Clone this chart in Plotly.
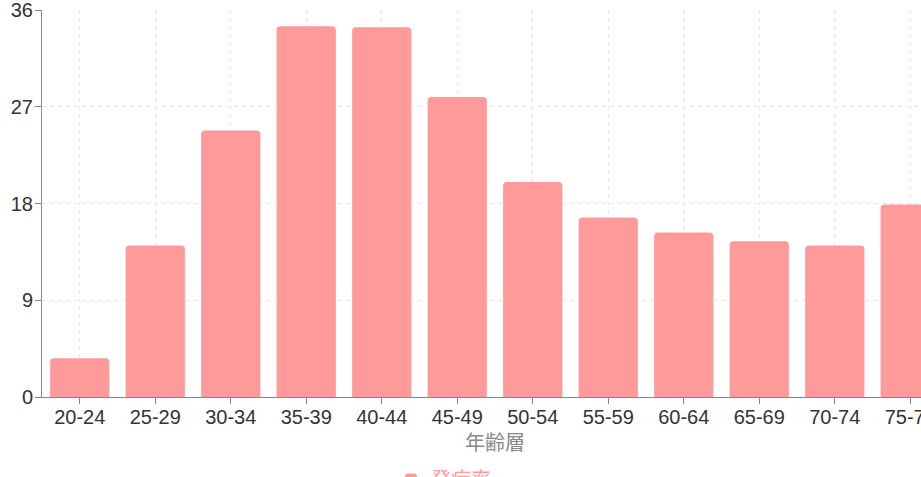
import plotly.graph_objects as go

age_groups = ["20-24", "25-29", "30-34", "35-39", "40-44", "45-49",
              "50-54", "55-59", "60-64", "65-69", "70-74", "75-79"]
incidence = [3.6, 14.1, 24.8, 34.5, 34.4, 27.9, 20.0, 16.7, 15.3, 14.5, 14.1, 17.9]
y_ticks = [0, 9, 18, 27, 36]

W, H = 921, 477
ML, MT, MB = 42, 10, 80
PH = H - MT - MB
step = 75.5  # px per category
x_max = -0.5 + (W - ML) / step

fig = go.Figure()
fig.add_trace(go.Bar(
    x=age_groups, y=incidence, name="発症率",
    marker=dict(color="#ff9a9a", line=dict(width=0)),
))

grid = dict(showgrid=True, gridcolor="#e8e8e8", griddash="4px,4px", gridwidth=1)
fig.update_layout(
    width=W, height=H,
    margin=dict(l=ML, r=0, t=MT, b=MB, autoexpand=False),
    plot_bgcolor="white", paper_bgcolor="white",
    bargap=0.215, barcornerradius=4,
    font=dict(family="Liberation Sans, Arial, sans-serif", size=20, color="#333"),
    showlegend=True,
    legend=dict(orientation="h", x=0.397, xanchor="left",
                y=(397 - 460) / PH, yanchor="top",
                font=dict(size=20, color="#ff9a9a",
                          family="Noto Sans CJK JP, sans-serif")),
    xaxis=dict(range=[-0.5, x_max], ticks="outside", ticklen=6, tickcolor="#888",
               showline=True, linecolor="#888", linewidth=1, zeroline=False,
               automargin=False, ticklabelstandoff=-4, **grid),
    yaxis=dict(range=[0, 36], tickvals=y_ticks, ticks="outside", ticklen=6,
               tickcolor="#888", showline=True, linecolor="#888", linewidth=1,
               zeroline=False, automargin=False, ticklabelstandoff=-2,
               ticklabeloverflow="allow", **grid),
    annotations=[dict(text="年齢層", xref="paper", yref="paper",
                      x=(495 - ML) / (W - ML), y=(397 - 441.7) / PH,
                      xanchor="center", yanchor="middle", showarrow=False,
                      font=dict(size=20, color="#888",
                                family="Noto Sans CJK JP, sans-serif"))],
)

# drop the page's default body margin so the figure sits at the window corner
fig.write_html("out.html", config={"displayModeBar": False},
               post_script="document.body.style.margin='0';"
                           "document.body.style.overflow='hidden';")
